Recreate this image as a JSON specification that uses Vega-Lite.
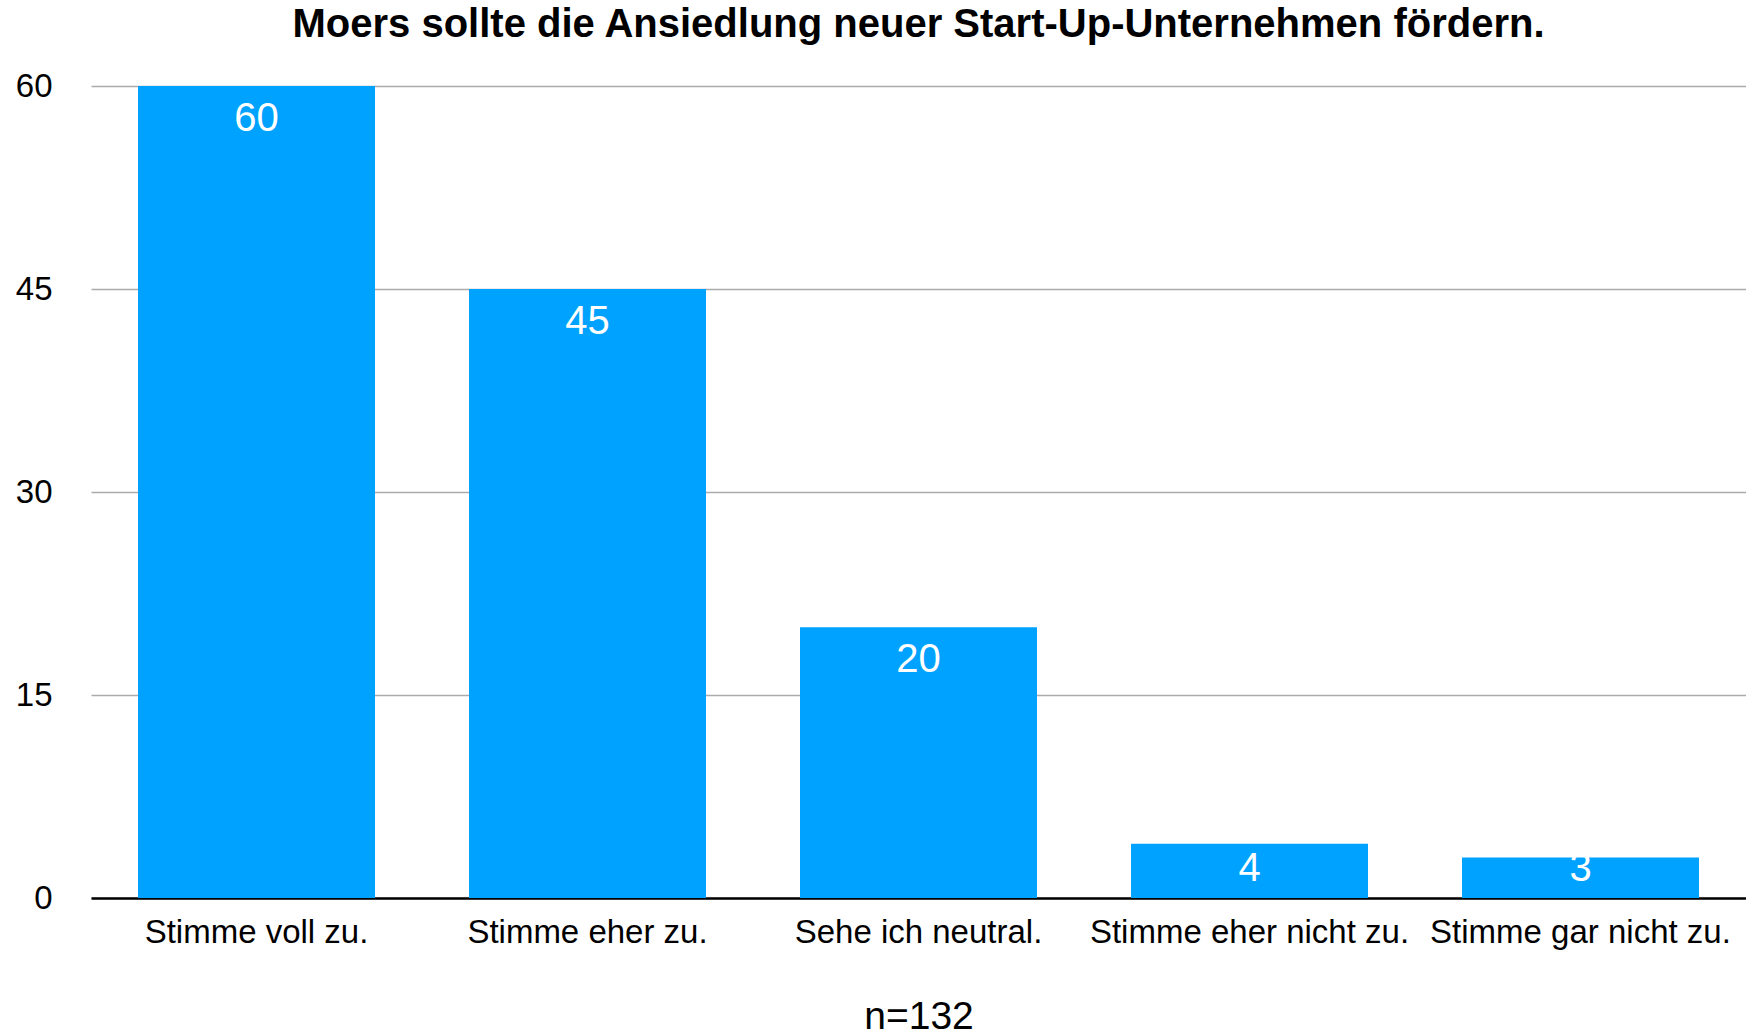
{
  "$schema": "https://vega.github.io/schema/vega-lite/v6.json",
  "width": 1655,
  "height": 812,
  "autosize": {"type": "none"},
  "padding": {"left": 91, "top": 86, "right": 0, "bottom": 138},
  "background": "white",
  "config": {
    "view": {"stroke": null},
    "font": "Liberation Sans"
  },
  "title": {
    "text": "Moers sollte die Ansiedlung neuer Start-Up-Unternehmen fördern.",
    "fontSize": 40,
    "fontWeight": "bold",
    "color": "black",
    "anchor": "middle",
    "baseline": "alphabetic",
    "offset": -7
  },
  "data": {
    "values": [
      {"antwort": "Stimme voll zu.", "anzahl": 60},
      {"antwort": "Stimme eher zu.", "anzahl": 45},
      {"antwort": "Sehe ich neutral.", "anzahl": 20},
      {"antwort": "Stimme eher nicht zu.", "anzahl": 4},
      {"antwort": "Stimme gar nicht zu.", "anzahl": 3}
    ]
  },
  "encoding": {
    "x": {
      "field": "antwort",
      "type": "nominal",
      "sort": null,
      "scale": {"paddingInner": 0.284, "paddingOuter": 0.142},
      "axis": {
        "title": "n=132",
        "titleFontSize": 39,
        "titleFontWeight": "normal",
        "titleColor": "black",
        "titlePadding": 48,
        "labelAngle": 0,
        "labelFontSize": 33,
        "labelColor": "black",
        "labelPadding": 18,
        "labelLimit": 0,
        "labelOverlap": false,
        "ticks": false,
        "domainColor": "black",
        "domainWidth": 2.5
      }
    }
  },
  "layer": [
    {
      "mark": {"type": "bar", "color": "#00A2FF"},
      "encoding": {
        "y": {
          "field": "anzahl",
          "type": "quantitative",
          "scale": {"domain": [0, 60], "nice": false},
          "axis": {
            "title": null,
            "values": [0, 15, 30, 45, 60],
            "labelFontSize": 33,
            "labelColor": "black",
            "labelPadding": 39,
            "ticks": false,
            "domain": false,
            "gridColor": "#ABABAB",
            "gridWidth": 1.5
          }
        }
      }
    },
    {
      "transform": [{"filter": "datum.anzahl >= 10"}],
      "mark": {"type": "text", "color": "white", "fontSize": 40, "baseline": "top", "dy": 13},
      "encoding": {
        "y": {"field": "anzahl", "type": "quantitative"},
        "text": {"field": "anzahl", "type": "quantitative"}
      }
    },
    {
      "transform": [
        {"filter": "datum.anzahl < 10"},
        {"joinaggregate": [{"op": "max", "field": "anzahl", "as": "labelpos"}]}
      ],
      "mark": {"type": "text", "color": "white", "fontSize": 40, "baseline": "top", "dy": 5},
      "encoding": {
        "y": {"field": "labelpos", "type": "quantitative"},
        "text": {"field": "anzahl", "type": "quantitative"}
      }
    }
  ]
}
